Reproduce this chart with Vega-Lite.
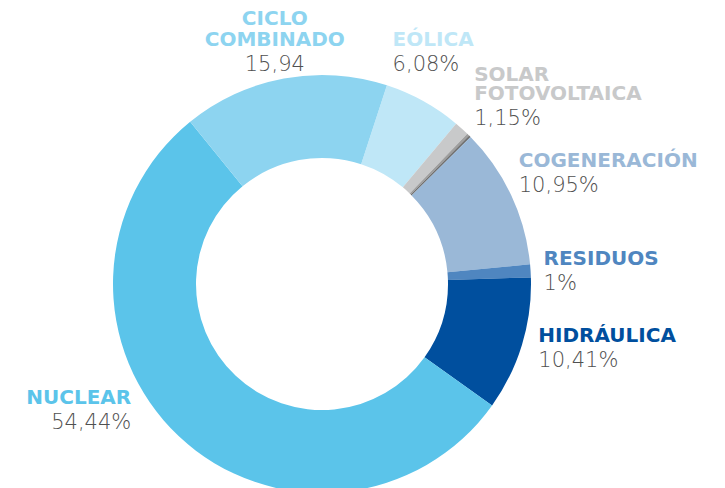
{
  "$schema": "https://vega.github.io/schema/vega-lite/v6.json",
  "width": 644,
  "height": 408,
  "autosize": {"type": "none"},
  "padding": {"left": 0, "top": 80, "right": 81, "bottom": 0},
  "background": "white",
  "config": {"view": {"stroke": null}},
  "data": {
    "values": [
      {"orden": 1, "fuente": "EÓLICA", "nombre": "EÓLICA", "pct": 6.08, "valor": "6,08%"},
      {"orden": 2, "fuente": "SOLAR FOTOVOLTAICA", "nombre": "SOLAR\nFOTOVOLTAICA", "pct": 1.15, "valor": "1,15%"},
      {"orden": 3, "fuente": "OTRAS A", "nombre": "", "pct": 0.2, "valor": ""},
      {"orden": 4, "fuente": "OTRAS B", "nombre": "", "pct": 0.15, "valor": ""},
      {"orden": 5, "fuente": "COGENERACIÓN", "nombre": "COGENERACIÓN", "pct": 10.95, "valor": "10,95%"},
      {"orden": 6, "fuente": "RESIDUOS", "nombre": "RESIDUOS", "pct": 1, "valor": "1%"},
      {"orden": 7, "fuente": "HIDRÁULICA", "nombre": "HIDRÁULICA", "pct": 10.41, "valor": "10,41%"},
      {"orden": 8, "fuente": "NUCLEAR", "nombre": "NUCLEAR", "pct": 54.44, "valor": "54,44%"},
      {"orden": 9, "fuente": "CICLO COMBINADO", "nombre": "CICLO\nCOMBINADO", "pct": 15.94, "valor": "15,94"}
    ]
  },
  "encoding": {
    "theta": {"field": "pct", "type": "quantitative", "stack": true, "scale": {"range": [0.316, 6.599]}},
    "order": {"field": "orden", "type": "quantitative"},
    "detail": {"field": "fuente", "type": "nominal"}
  },
  "layer": [
    {
      "mark": {"type": "arc", "innerRadius": 126, "outerRadius": 209},
      "encoding": {
        "color": {
          "field": "fuente", "type": "nominal", "legend": null,
          "scale": {
            "domain": ["EÓLICA", "SOLAR FOTOVOLTAICA", "OTRAS A", "OTRAS B", "COGENERACIÓN", "RESIDUOS", "HIDRÁULICA", "NUCLEAR", "CICLO COMBINADO"],
            "range": ["#bfe7f7", "#c8c9ca", "#9e9e9e", "#6f6f6f", "#9ab8d7", "#4f86c0", "#004f9e", "#5bc4ea", "#8dd4f0"]
          }
        }
      }
    },
    {
      "mark": {"type": "text", "radius": 226, "align": "center", "baseline": "bottom", "dx": -6, "dy": -33, "font": "DejaVu Sans", "fontWeight": "bold", "fontSize": 20, "lineHeight": 21, "lineBreak": "\n"},
      "encoding": {
        "text": {"condition": {"test": "datum.fuente === 'CICLO COMBINADO'", "field": "nombre"}, "value": ""},
        "color": {"field": "fuente", "type": "nominal", "legend": null}
      }
    },
    {
      "mark": {"type": "text", "radius": 226, "align": "center", "baseline": "top", "dx": -6, "dy": -8, "font": "DejaVu Sans", "fontWeight": 200, "fontSize": 21, "color": "#505050"},
      "encoding": {
        "text": {"condition": {"test": "datum.fuente === 'CICLO COMBINADO'", "field": "valor"}, "value": ""}
      }
    },
    {
      "mark": {"type": "text", "radius": 226, "align": "left", "baseline": "bottom", "dx": -39, "dy": -36, "font": "DejaVu Sans", "fontWeight": "bold", "fontSize": 20, "lineHeight": 21, "lineBreak": "\n"},
      "encoding": {
        "text": {"condition": {"test": "datum.fuente === 'EÓLICA'", "field": "nombre"}, "value": ""},
        "color": {"field": "fuente", "type": "nominal", "legend": null}
      }
    },
    {
      "mark": {"type": "text", "radius": 226, "align": "left", "baseline": "top", "dx": -39, "dy": -32, "font": "DejaVu Sans", "fontWeight": 200, "fontSize": 21, "color": "#505050"},
      "encoding": {
        "text": {"condition": {"test": "datum.fuente === 'EÓLICA'", "field": "valor"}, "value": ""}
      }
    },
    {
      "mark": {"type": "text", "radius": 226, "align": "left", "baseline": "bottom", "dx": 1, "dy": -31, "font": "DejaVu Sans", "fontWeight": "bold", "fontSize": 20, "lineHeight": 19, "lineBreak": "\n"},
      "encoding": {
        "text": {"condition": {"test": "datum.fuente === 'SOLAR FOTOVOLTAICA'", "field": "nombre"}, "value": ""},
        "color": {"field": "fuente", "type": "nominal", "legend": null}
      }
    },
    {
      "mark": {"type": "text", "radius": 226, "align": "left", "baseline": "top", "dx": 1, "dy": -8, "font": "DejaVu Sans", "fontWeight": 200, "fontSize": 21, "color": "#505050"},
      "encoding": {
        "text": {"condition": {"test": "datum.fuente === 'SOLAR FOTOVOLTAICA'", "field": "valor"}, "value": ""}
      }
    },
    {
      "mark": {"type": "text", "radius": 226, "align": "left", "baseline": "bottom", "dx": -8, "dy": -17, "font": "DejaVu Sans", "fontWeight": "bold", "fontSize": 20, "lineHeight": 21, "lineBreak": "\n"},
      "encoding": {
        "text": {"condition": {"test": "datum.fuente === 'COGENERACIÓN'", "field": "nombre"}, "value": ""},
        "color": {"field": "fuente", "type": "nominal", "legend": null}
      }
    },
    {
      "mark": {"type": "text", "radius": 226, "align": "left", "baseline": "top", "dx": -8, "dy": -13, "font": "DejaVu Sans", "fontWeight": 200, "fontSize": 21, "color": "#505050"},
      "encoding": {
        "text": {"condition": {"test": "datum.fuente === 'COGENERACIÓN'", "field": "valor"}, "value": ""}
      }
    },
    {
      "mark": {"type": "text", "radius": 226, "align": "left", "baseline": "bottom", "dx": -4, "dy": -1, "font": "DejaVu Sans", "fontWeight": "bold", "fontSize": 20, "lineHeight": 21, "lineBreak": "\n"},
      "encoding": {
        "text": {"condition": {"test": "datum.fuente === 'RESIDUOS'", "field": "nombre"}, "value": ""},
        "color": {"field": "fuente", "type": "nominal", "legend": null}
      }
    },
    {
      "mark": {"type": "text", "radius": 226, "align": "left", "baseline": "top", "dx": -4, "dy": 3, "font": "DejaVu Sans", "fontWeight": 200, "fontSize": 21, "color": "#505050"},
      "encoding": {
        "text": {"condition": {"test": "datum.fuente === 'RESIDUOS'", "field": "valor"}, "value": ""}
      }
    },
    {
      "mark": {"type": "text", "radius": 226, "align": "left", "baseline": "bottom", "dx": 0, "dy": -4, "font": "DejaVu Sans", "fontWeight": "bold", "fontSize": 20, "lineHeight": 21, "lineBreak": "\n"},
      "encoding": {
        "text": {"condition": {"test": "datum.fuente === 'HIDRÁULICA'", "field": "nombre"}, "value": ""},
        "color": {"field": "fuente", "type": "nominal", "legend": null}
      }
    },
    {
      "mark": {"type": "text", "radius": 226, "align": "left", "baseline": "top", "dx": 0, "dy": 0, "font": "DejaVu Sans", "fontWeight": 200, "fontSize": 21, "color": "#505050"},
      "encoding": {
        "text": {"condition": {"test": "datum.fuente === 'HIDRÁULICA'", "field": "valor"}, "value": ""}
      }
    },
    {
      "mark": {"type": "text", "radius": 226, "align": "right", "baseline": "bottom", "dx": -36, "dy": -41, "font": "DejaVu Sans", "fontWeight": "bold", "fontSize": 20, "lineHeight": 21, "lineBreak": "\n"},
      "encoding": {
        "text": {"condition": {"test": "datum.fuente === 'NUCLEAR'", "field": "nombre"}, "value": ""},
        "color": {"field": "fuente", "type": "nominal", "legend": null}
      }
    },
    {
      "mark": {"type": "text", "radius": 226, "align": "right", "baseline": "top", "dx": -36, "dy": -37, "font": "DejaVu Sans", "fontWeight": 200, "fontSize": 21, "color": "#505050"},
      "encoding": {
        "text": {"condition": {"test": "datum.fuente === 'NUCLEAR'", "field": "valor"}, "value": ""}
      }
    }
  ]
}
